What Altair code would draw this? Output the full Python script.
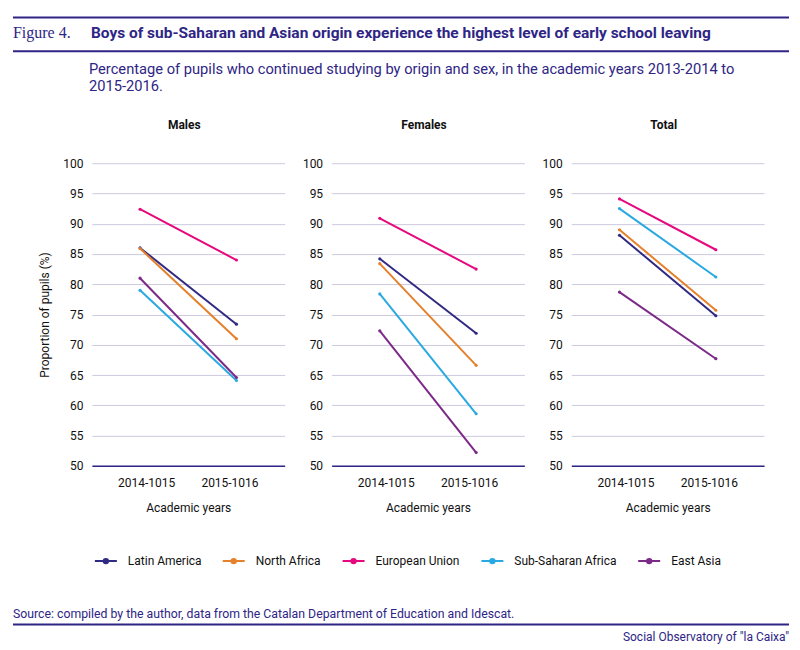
import altair as alt
import pandas as pd

origins = ["Latin America", "North Africa", "European Union", "Sub-Saharan Africa", "East Asia"]
colors = ["#302a83", "#e5802b", "#e6087e", "#2aa9e1", "#7c2a88"]
years = ["2014-1015", "2015-1016"]

males_1415 = [86.0, 85.9, 92.4, 79.0, 81.0]
males_1516 = [73.4, 71.0, 84.0, 64.1, 64.6]
females_1415 = [84.2, 83.4, 90.9, 78.4, 72.3]
females_1516 = [71.9, 66.6, 82.5, 58.6, 52.2]
total_1415 = [88.1, 89.0, 94.1, 92.5, 78.7]
total_1516 = [74.8, 75.7, 85.7, 81.2, 67.7]

y_ticks = [50, 55, 60, 65, 70, 75, 80, 85, 90, 95, 100]

panel_titles = ["Males", "Females", "Total"]
fig_label = "Figure 4."
title_text = "Boys of sub-Saharan and Asian origin experience the highest level of early school leaving"
subtitle_1 = "Percentage of pupils who continued studying by origin and sex, in the academic years 2013-2014 to"
subtitle_2 = "2015-2016."
source_text = "Source: compiled by the author, data from the Catalan Department of Education and Idescat."
credit_text = "Social Observatory of \"la Caixa\""

INDIGO = "#2e2585"
FONT = "Roboto"
W, H = 193, 303


def make_df(a, b):
    rows = []
    for o, v1, v2 in zip(origins, a, b):
        rows.append({"origin": o, "year": years[0], "value": v1})
        rows.append({"origin": o, "year": years[1], "value": v2})
    return pd.DataFrame(rows)


legend_symbol = "M-1,0L1,0M-0.2,0a0.2,0.2 0 1,0 0.4,0a0.2,0.2 0 1,0 -0.4,0"


def lines(df, ytitle, legend):
    yaxis = alt.Axis(values=y_ticks, title=ytitle, domain=False, ticks=False,
                     labelPadding=9, titlePadding=11, grid=True)
    xaxis = alt.Axis(title="Academic years", labelAngle=0, ticks=False, grid=False,
                     domain=True, domainColor=INDIGO, domainWidth=1.5,
                     labelPadding=12, titlePadding=14,
                     labelOffset={"condition": {"test": "datum.value === '2014-1015'", "value": 6}, "value": -7})
    enc_color = alt.Color("origin:N", sort=origins,
                          scale=alt.Scale(domain=origins, range=colors),
                          legend=legend)
    return alt.Chart(df).mark_line(strokeWidth=2, point=alt.OverlayMarkDef(filled=True, size=10)).encode(
        x=alt.X("year:O", sort=years, scale=alt.Scale(type="point", padding=0.5), axis=xaxis),
        y=alt.Y("value:Q", scale=alt.Scale(domain=[50, 100], nice=False), axis=yaxis),
        color=enc_color,
        detail="origin:N",
    )


legend = alt.Legend(orient="none", legendX=2, legendY=386, direction="horizontal", title=None,
                    symbolType=legend_symbol, symbolSize=484, symbolStrokeWidth=2,
                    labelFontSize=12, labelFont=FONT, labelColor="#111111",
                    labelOffset=10, columnPadding=17)

one = pd.DataFrame({"k": [0]})


def deco_text(txt, x, y, size, weight="normal", font=FONT, color=INDIGO, align="left",
              baseline="alphabetic"):
    return alt.Chart(one).mark_text(align=align, baseline=baseline, fontSize=size,
                                    fontWeight=weight, font=font, color=color).encode(
        x=alt.value(x), y=alt.value(y), text=alt.value(txt))


def deco_rule(y):
    return alt.Chart(one).mark_rule(color=INDIGO, strokeWidth=2).encode(
        x=alt.value(-79), x2=alt.value(698), y=alt.value(y))


def ptitle(t):
    return deco_text(t, W / 2 - 4, -38, 12, weight="bold", color="#111111",
                     align="center", baseline="middle")


males = alt.layer(
    lines(make_df(males_1415, males_1516), "Proportion of pupils (%)", legend),
    ptitle(panel_titles[0]),
    deco_rule(-146),
    deco_text(fig_label, -79, -125, 16, font="Liberation Serif"),
    deco_text(title_text, -1, -125, 15.5, weight="bold"),
    deco_rule(-112),
    deco_text(subtitle_1, -3, -89, 14.7),
    deco_text(subtitle_2, -3, -72, 14.7),
    deco_text(source_text, -79, 455, 12.3),
    deco_rule(462),
    deco_text(credit_text, 698, 478, 12, align="right"),
).properties(width=W, height=H)

females = alt.layer(
    lines(make_df(females_1415, females_1516), None, legend),
    ptitle(panel_titles[1]),
).properties(width=W, height=H)

total = alt.layer(
    lines(make_df(total_1415, total_1516), None, legend),
    ptitle(panel_titles[2]),
).properties(width=W, height=H)

chart = alt.hconcat(males, females, total, spacing=47, bounds="flush").properties(
    padding={"left": 4, "top": 8, "right": 2, "bottom": 2}
).configure_view(stroke=None).configure_axis(
    labelFont=FONT, labelFontSize=12, labelColor="#111111",
    titleFont=FONT, titleFontSize=12, titleFontWeight="normal", titleColor="#111111",
    gridColor="#cdc9e0", gridWidth=1,
)

chart.save("out.html", embed_options={"renderer": "svg", "actions": False})
